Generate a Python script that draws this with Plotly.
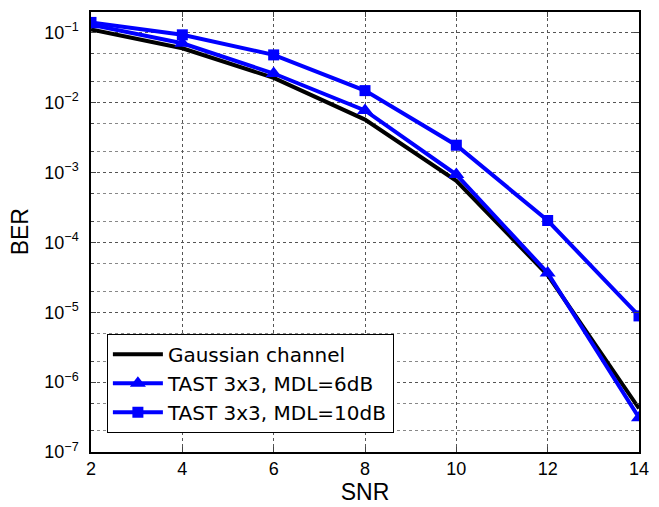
import plotly.graph_objects as go

snr = [2, 4, 6, 8, 10, 12, 14]
ber_gauss = [0.111, 0.0597, 0.0225, 0.0057, 7.6e-4, 3.4e-5, 4.2e-7]
ber_tast6 = [0.13, 0.0705, 0.026, 0.0077, 9.3e-4, 3.65e-5, 3.1e-7]
ber_tast10 = [0.14, 0.093, 0.048, 0.0148, 0.00245, 2.05e-4, 8.85e-6]
names = ["Gaussian channel", "TAST 3x3, MDL=6dB", "TAST 3x3, MDL=10dB"]
ytick_vals = [1e-7, 1e-6, 1e-5, 1e-4, 1e-3, 1e-2, 1e-1]
ytick_text = ["10<sup>−7</sup>", "10<sup>−6</sup>", "10<sup>−5</sup>", "10<sup>−4</sup>",
              "10<sup>−3</sup>", "10<sup>−2</sup>", "10<sup>−1</sup>"]
xtick_vals = [2, 4, 6, 8, 10, 12, 14]

fig = go.Figure()
fig.add_trace(go.Scatter(x=snr, y=ber_gauss, mode="lines", name=names[0],
                         line=dict(color="black", width=4)))
fig.add_trace(go.Scatter(x=snr, y=ber_tast6, mode="lines+markers", name=names[1],
                         line=dict(color="#0000ff", width=4),
                         marker=dict(symbol="triangle-up", size=14, color="#0000ff")))
fig.add_trace(go.Scatter(x=snr, y=ber_tast10, mode="lines+markers", name=names[2],
                         line=dict(color="#0000ff", width=4),
                         marker=dict(symbol="square", size=11, color="#0000ff")))

font = "Liberation Sans, Arial, Helvetica, sans-serif"
fig.update_layout(
    width=659, height=507,
    margin=dict(l=91, r=12, t=10, b=54),
    paper_bgcolor="white", plot_bgcolor="white",
    font=dict(family=font, size=18, color="black"),
    showlegend=True,
    legend=dict(x=0.029, y=0.269, xanchor="left", yanchor="top",
                bgcolor="white", bordercolor="black", borderwidth=1,
                font=dict(size=20, family="DejaVu Sans, Liberation Sans, sans-serif"),
                itemwidth=50, tracegroupgap=0),
    xaxis=dict(range=[2, 14], tickvals=xtick_vals, ticks="inside", ticklen=5,
               showline=True, linecolor="black", linewidth=1.5, mirror="allticks",
               showgrid=True, gridcolor="#555555", griddash="dot", gridwidth=1,
               zeroline=False, title=dict(text="SNR", font=dict(size=23), standoff=2),
               tickfont=dict(size=18)),
    yaxis=dict(type="log", range=[-7, -0.705], tickvals=ytick_vals, ticktext=ytick_text,
               ticks="inside", ticklen=5, ticklabelstandoff=7,
               showline=True, linecolor="black", linewidth=1.5, mirror="allticks",
               showgrid=True, gridcolor="#555555", griddash="dot", gridwidth=1,
               minor=dict(ticks="inside", ticklen=3, showgrid=True,
                          gridcolor="#888888", griddash="dot", gridwidth=1),
               zeroline=False, tickfont=dict(size=18)),
    annotations=[dict(text="BER", xref="paper", yref="paper", x=-0.129, y=0.5,
                      xanchor="center", yanchor="middle", textangle=-90,
                      showarrow=False, font=dict(size=23))],
)

fig.write_html("out.html")
